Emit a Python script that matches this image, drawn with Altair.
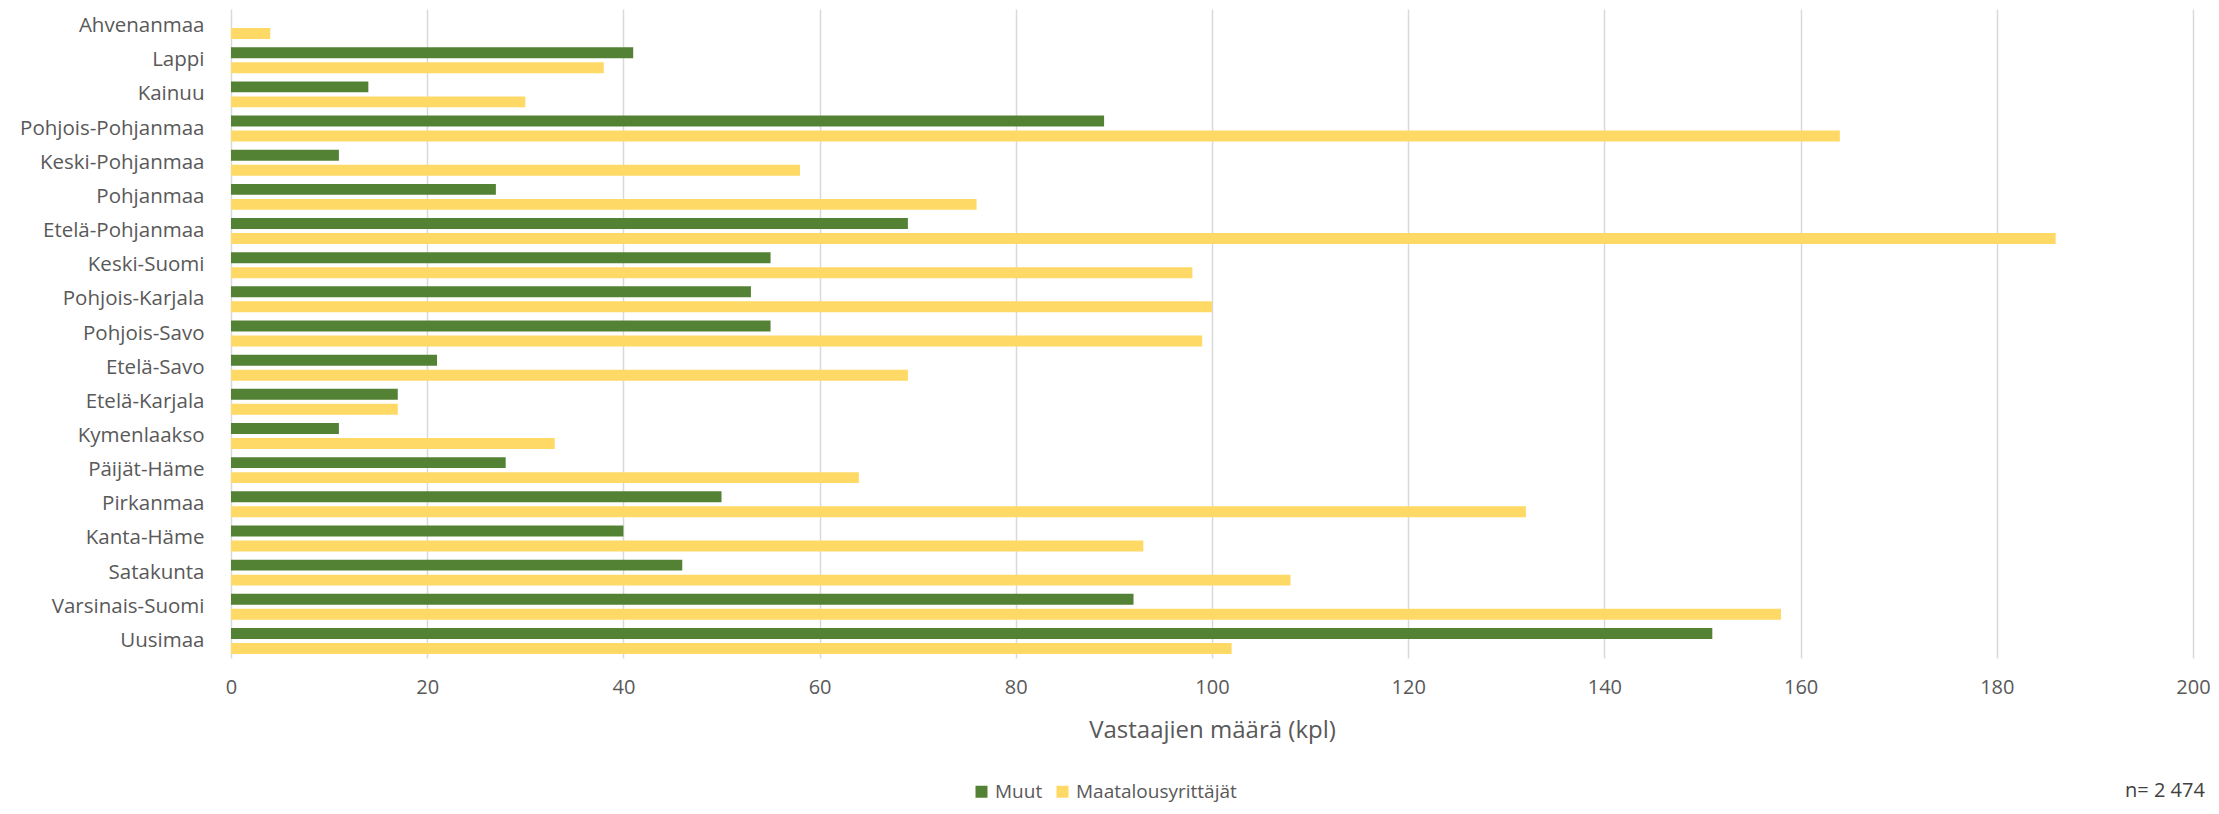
import altair as alt
import pandas as pd

regions = [
    "Ahvenanmaa", "Lappi", "Kainuu", "Pohjois-Pohjanmaa", "Keski-Pohjanmaa",
    "Pohjanmaa", "Etelä-Pohjanmaa", "Keski-Suomi", "Pohjois-Karjala",
    "Pohjois-Savo", "Etelä-Savo", "Etelä-Karjala", "Kymenlaakso",
    "Päijät-Häme", "Pirkanmaa", "Kanta-Häme", "Satakunta",
    "Varsinais-Suomi", "Uusimaa",
]
muut = [0, 41, 14, 89, 11, 27, 69, 55, 53, 55, 21, 17, 11, 28, 50, 40, 46, 92, 151]
maatalous = [4, 38, 30, 164, 58, 76, 186, 98, 100, 99, 69, 17, 33, 64, 132, 93, 108, 158, 102]
series = ["Muut", "Maatalousyrittäjät"]
colors = ["#548235", "#FFD966"]
x_ticks = [0, 20, 40, 60, 80, 100, 120, 140, 160, 180, 200]
x_title = "Vastaajien määrä (kpl)"
n_label = "n= 2 474"

rows = []
for r, a, b in zip(regions, muut, maatalous):
    rows.append({"Alue": r, "Sarja": series[0], "Arvo": a})
    rows.append({"Alue": r, "Sarja": series[1], "Arvo": b})
df = pd.DataFrame(rows)

FONT = "Open Sans"
TXT = "#595959"

bars = alt.Chart(df).mark_bar().encode(
    y=alt.Y(
        "Alue:N",
        sort=regions,
        scale=alt.Scale(paddingInner=0.24, paddingOuter=0.12),
        axis=alt.Axis(
            title=None, ticks=False, domain=False, grid=False,
            labelFont=FONT, labelFontSize=20.5, labelColor=TXT, labelPadding=27,
            labelLimit=400,
        ),
    ),
    yOffset=alt.YOffset("Sarja:N", sort=series, scale=alt.Scale(paddingInner=0.27)),
    x=alt.X(
        "Arvo:Q",
        scale=alt.Scale(domain=[0, 200], nice=False, zero=True),
        axis=alt.Axis(
            values=x_ticks, title=x_title, ticks=False, domain=False,
            grid=True, gridColor="#D9D9D9", gridWidth=1.5,
            labelFlush=False, labelOverlap=False,
            labelFont=FONT, labelFontSize=20, labelColor=TXT, labelPadding=19,
            titleFont=FONT, titleFontSize=24, titleColor=TXT, titleFontWeight="normal",
            titlePadding=21,
        ),
    ),
    color=alt.Color(
        "Sarja:N",
        sort=series,
        scale=alt.Scale(domain=series, range=colors),
        legend=alt.Legend(
            title=None, orient="none", direction="horizontal",
            legendX=741, legendY=773,
            symbolType="square", symbolSize=144, symbolStrokeWidth=0,
            labelFont=FONT, labelFontSize=19, labelColor=TXT, labelLimit=400,
            columnPadding=10, labelOffset=4,
        ),
    ),
)

note = alt.Chart(pd.DataFrame({"t": [n_label]})).mark_text(
    font=FONT, fontSize=20, color="#404040", align="left", baseline="top"
).encode(text="t:N", x=alt.value(1894), y=alt.value(772))

chart = alt.layer(bars, note).properties(
    width=1962, height=649,
    autosize=alt.AutoSizeParams(type="none"),
    padding={"left": 223, "top": 1, "right": 18, "bottom": 148},
).configure_view(stroke=None)

chart.save("out.html", embed_options={"renderer": "svg", "actions": False})
